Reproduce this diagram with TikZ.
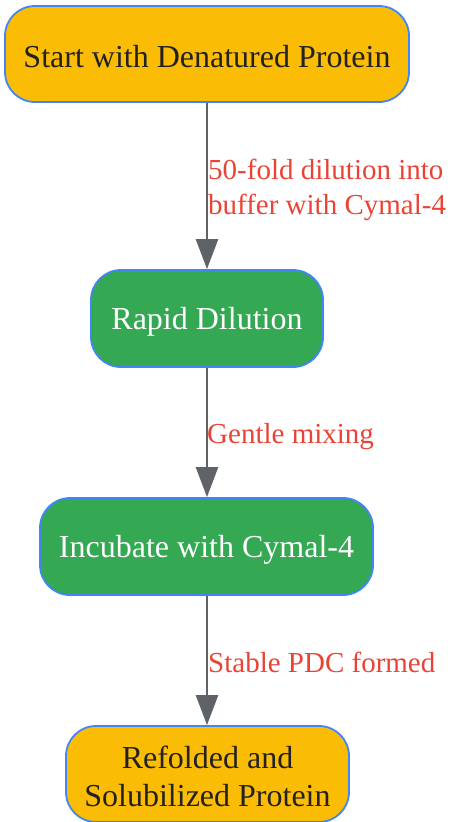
\documentclass[tikz,border=0pt]{standalone}
\usepackage{fontspec}
\setmainfont{Liberation Serif}
\usetikzlibrary{arrows.meta}
\definecolor{cOrange}{HTML}{FBBC05}
\definecolor{cGreen}{HTML}{34A853}
\definecolor{cBlue}{HTML}{4285F4}
\definecolor{cGrey}{HTML}{5F6368}
\definecolor{cRed}{HTML}{EA4335}
\definecolor{cText}{HTML}{222222}
\tikzset{
  box/.style={draw=cBlue, line width=1.8pt, rounded corners=30pt, align=center,
    inner sep=0pt, text height=28pt, font=\fontsize{32}{38}\selectfont},
  orangebox/.style={box, fill=cOrange, text=cText},
  greenbox/.style={box, fill=cGreen, text=white},
  flow/.style={draw=cGrey, line width=2.5pt, -{Triangle[length=30pt,width=22pt]}},
  lbl/.style={text=cRed, font=\fontsize{29}{35}\selectfont, align=left, anchor=west, inner sep=0pt}
}
\begin{document}
\begin{tikzpicture}[x=1pt,y=-1pt]
\useasboundingbox (0,0) rectangle (450,822);
\node[orangebox, minimum width=404pt, minimum height=96pt] (a) at (207,54) {Start with Denatured Protein};
\node[greenbox, minimum width=232pt, minimum height=97pt] (b) at (207,318.5) {Rapid Dilution};
\node[greenbox, minimum width=333pt, minimum height=97pt] (c) at (206.5,546.5) {Incubate with Cymal-4};
\node[orangebox, minimum width=283pt, minimum height=96pt, text height=66pt] (d) at (207.5,774) {Refolded and\\Solubilized Protein};
\draw[flow] (a.south -| 207,0) -- (b.north -| 207,0);
\draw[flow] (b.south -| 207,0) -- (c.north -| 207,0);
\draw[flow] (c.south -| 207,0) -- (d.north -| 207,0);
\node[lbl] (la) at (208,190) {50-fold dilution into\\buffer with Cymal-4};
\node[lbl] (lb) at (207,437) {Gentle mixing};
\node[lbl] (lc) at (208,662) {Stable PDC formed};
\end{tikzpicture}
\end{document}
